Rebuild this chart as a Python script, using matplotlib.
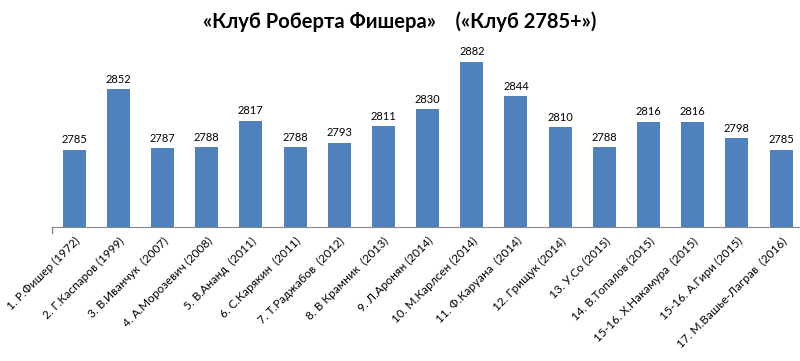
import matplotlib
matplotlib.use("Agg")
import matplotlib.pyplot as plt

players = ["1. Р.Фишер (1972)", "2. Г.Каспаров (1999)", "3. В.Иванчук  (2007)",
           "4. А.Морозевич (2008)", "5. В.Ананд  (2011)", "6. С.Карякин  (2011)",
           "7. Т.Раджабов  (2012)", "8. В Крамник  (2013)", "9. Л.Аронян (2014)",
           "10. М.Карлсен (2014)", "11. Ф.Каруана  (2014)", "12. Грищук (2014)",
           "13. У.Со (2015)", "14. В.Топалов (2015)", "15-16. Х.Накамура  (2015)",
           "15-16. А.Гири (2015)", "17. М.Вашье-Лаграв  (2016)"]
ratings = [2785, 2852, 2787, 2788, 2817, 2788, 2793, 2811, 2830,
           2882, 2844, 2810, 2788, 2816, 2816, 2798, 2785]
title = "«Клуб Роберта Фишера»    («Клуб 2785+»)"

plt.rcParams['font.family'] = ['Lato', 'DejaVu Sans']

fig = plt.figure(figsize=(8, 3.61), dpi=100)
ax = fig.add_axes([0.065, 0.371, 0.939, 0.503])
x = list(range(len(players)))
bars = ax.bar(x, ratings, width=0.52, color="#4F81BD", bottom=0)
ax.set_ylim(2700, 2900)
ax.set_xlim(-0.5, 16.5)
for xi, v in zip(x, ratings):
    ax.text(xi, v + 5, str(v), ha="center", va="bottom", fontsize=8)

ax.set_xticks(x)
ax.set_xticklabels(players, rotation=45, ha="right", rotation_mode="anchor", fontsize=8.5)
ax.tick_params(axis="x", length=0, pad=6)
ax.set_yticks([])
for s in ["top", "right", "left"]:
    ax.spines[s].set_visible(False)
ax.spines["bottom"].set_color("#888888")
ax.plot([-0.5, -0.5], [2700, 2694], color="#888888", lw=1, clip_on=False)

fig.text(0.5, 0.94, title, ha="center", va="center", fontsize=14.5, fontweight="bold")
fig.savefig("out.png", dpi=100)
